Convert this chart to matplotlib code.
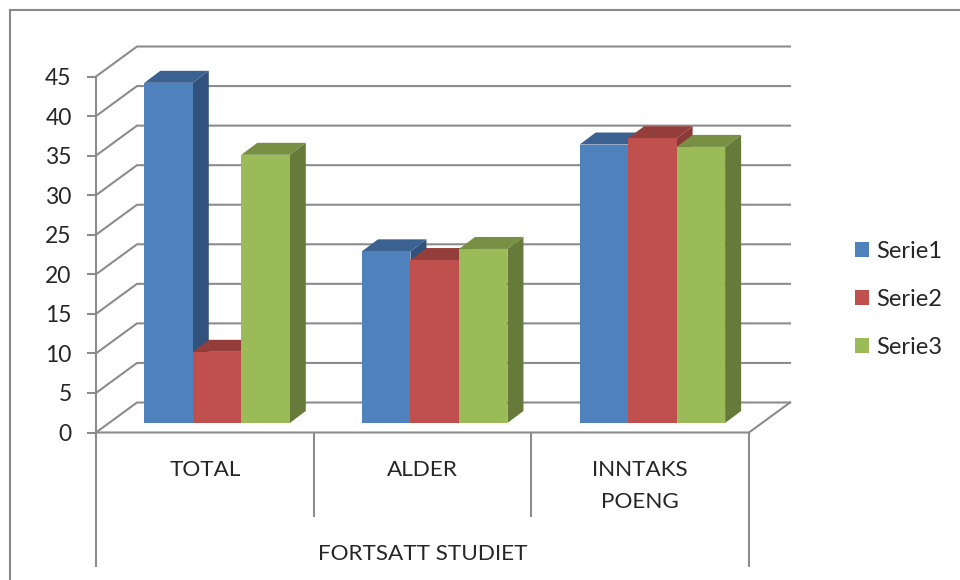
import matplotlib
matplotlib.use("Agg")
import matplotlib.pyplot as plt
from matplotlib.lines import Line2D

categories = ["TOTAL", "ALDER", "INNTAKS\nPOENG"]
group_label = "FORTSATT STUDIET"
serie1 = [43.0, 21.7, 35.2]
serie2 = [9.0, 20.6, 36.0]
serie3 = [33.9, 22.0, 34.9]
series_names = ["Serie1", "Serie2", "Serie3"]
y_ticks = [0, 5, 10, 15, 20, 25, 30, 35, 40, 45]

W, H = 960, 580
LINE = "#8c8c8c"
TXT = "#262626"
FS_TICK = 16.5
FS_CAT = 16.2
FS_LEG = 17
front = ["#4F81BD", "#C0504D", "#9BBB59"]
side = ["#30527C", "#8A3A38", "#667A39"]
top = ["#3B6291", "#943E3B", "#779043"]

PX_X = 217.67  # pixels per category
PX_Y = 7.911   # pixels per value unit
X0, Y0 = 96.0, 432.5

plt.rcParams["font.family"] = ["Lato", "DejaVu Sans"]
fig = plt.figure(figsize=(W / 100, H / 100), dpi=100)
ax = fig.add_axes([0, 0, 1, 1])
ax.set_xlim(-X0 / PX_X, (W - X0) / PX_X)
ax.set_ylim(-(H - Y0) / PX_Y, Y0 / PX_Y)
ax.patch.set_visible(False)

# projection depths in data units
wall_dx, wall_dy = 41 / PX_X, 30 / PX_Y
bar_dx, bar_dy = 16 / PX_X, 12 / PX_Y
base_dy = 9.5 / PX_Y
bar_w = 48.5 / PX_X
shift = 12.2 / PX_X
n = len(categories)
lw = 1.5

# walls and floor
for t in y_ticks:
    ax.plot([0, wall_dx, n + wall_dx], [t, t + wall_dy, t + wall_dy],
            color=LINE, lw=lw, zorder=1, solid_joinstyle="miter")
ax.plot([0, n, n + wall_dx], [0, 0, wall_dy], color=LINE, lw=lw, zorder=1)

# multi-level category axis
lower = -(567 - Y0) / PX_Y
mid = -(517 - Y0) / PX_Y
ax.vlines([0, n], lower, 0, color=LINE, lw=lw, zorder=1)
ax.vlines([1, 2], mid, 0, color=LINE, lw=lw, zorder=1)

# bars with their projected faces
all_series = [serie1, serie2, serie3]
z = 3
for c in range(n):
    for i, vals in enumerate(all_series):
        v = vals[c]
        xc = c + 0.5 + shift + (i - 1) * bar_w
        l, r = xc - bar_w / 2, xc + bar_w / 2
        b, tp = base_dy, v + base_dy
        ax.fill([r, r + bar_dx, r + bar_dx, r],
                [b, b + bar_dy, tp + bar_dy, tp],
                color=side[i], lw=0, zorder=z)
        ax.fill([l, l + bar_dx, r + bar_dx, r],
                [tp, tp + bar_dy, tp + bar_dy, tp],
                color=top[i], lw=0, zorder=z)
        ax.bar(xc, v, width=bar_w, bottom=b, color=front[i], lw=0, zorder=z + 0.5)
        z += 1

# value axis
for s in ["top", "right", "bottom"]:
    ax.spines[s].set_visible(False)
ax.spines["left"].set_position(("data", 0))
ax.spines["left"].set_bounds(0, 45)
ax.spines["left"].set_color(LINE)
ax.spines["left"].set_linewidth(lw)
ax.set_yticks(y_ticks)
ax.tick_params(axis="y", length=6.5, width=lw, color=LINE, pad=11,
               labelsize=FS_TICK, labelcolor=TXT)
ax.set_xticks([])

# category labels
ax.text(0.5, -(469.5 - Y0) / PX_Y, categories[0], ha="center", va="center",
        fontsize=FS_CAT, color=TXT)
ax.text(1.5, -(469.5 - Y0) / PX_Y, categories[1], ha="center", va="center",
        fontsize=FS_CAT, color=TXT)
for k, part in enumerate(categories[2].split("\n")):
    ax.text(2.5, -(469.5 + 32 * k - Y0) / PX_Y, part, ha="center", va="center",
            fontsize=FS_CAT, color=TXT)
ax.text(1.5, -(553.5 - Y0) / PX_Y, group_label, ha="center", va="center",
        fontsize=FS_CAT, color=TXT)

# legend
handles = [plt.Rectangle((0, 0), 1, 1, color=c, lw=0) for c in front]
ax.legend(handles, series_names, loc="center left",
          bbox_to_anchor=(834 / W, 1 - 299.5 / H), frameon=False, fontsize=FS_LEG,
          labelspacing=1.15, handlelength=0.59, handleheight=0.59,
          handletextpad=0.3, labelcolor=TXT)

# outer chart frame
for xs, ys in [((9.5, 9.5), (9.5, 580)), ((9.5, 960), (9.5, 9.5))]:
    fig.add_artist(Line2D([x / W for x in xs], [1 - y / H for y in ys],
                          color="#8a8a8a", lw=1.5))

fig.savefig("out.png", dpi=100, facecolor="white")
